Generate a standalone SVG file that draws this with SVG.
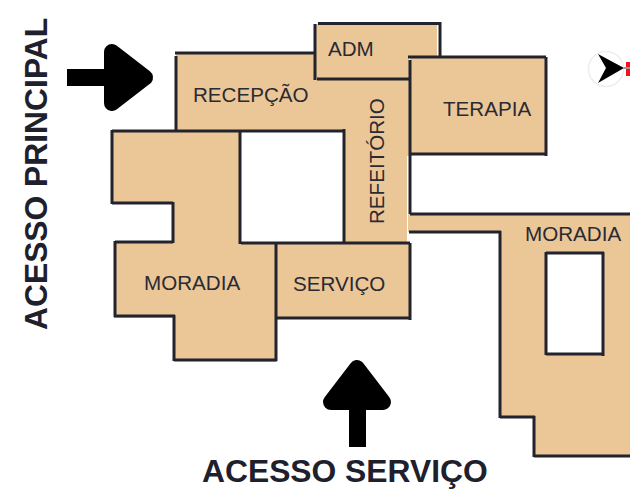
<svg xmlns="http://www.w3.org/2000/svg" width="630" height="489" viewBox="0 0 630 489">
<style>
.fill{fill:#ebc798;stroke:none}
.wall{fill:none;stroke:#23232d;stroke-width:3;stroke-linecap:butt;stroke-linejoin:miter}
.room{font-family:"Liberation Sans",Arial,sans-serif;font-size:20.600px;fill:#2a2a33}
.access{font-family:"Liberation Sans",Arial,sans-serif;font-size:31.800px;font-weight:700;fill:#20202c}
.arrow{fill:#000;stroke:#000;stroke-width:16;stroke-linejoin:round}
</style>
<rect width="630" height="489" fill="#fff"/>
<g id="plan-fill">
<path class="fill" d="M176 54H316V24H437V57H409V156H407V243H345V131H176Z"/>
<path class="fill" d="M410 57H546V154H410Z"/>
<path class="fill" d="M112 131H240V243H410V318H276V362H240V360H174V318H114V242H173V203H112Z"/>
<path class="fill" d="M408 214H630V456H534V417H500V232H408Z"/>
<rect x="546" y="252" width="56" height="103" fill="#fff"/>
</g>
<g id="connectors" class="wall">
<path d="M175 53H316M176 56V131M112 131H345M344 129V243M240 131V244M241 243H410"/>
<path d="M112 130V204M112 203H173M173 202V243M115 242H173M115 241V317M114 316H175M174 315V361M174 360H277M276 244V361M275 318H411M410 243V320"/>
<path d="M315 24V80M318 23.500H441M440 22V57M317 79H410M408 57H546M546 57V156M410 154H547M410 60V214M410 214H630"/>
<path d="M409 232H501M500 231V418M500 417H535M534 416V457M534 456H630"/>
<path d="M546 253H604M546 354H604M546 252V355M603 252V356"/>
</g>
<g id="recepcao"><text class="room" x="193" y="102">RECEPÇÃO</text></g>
<g id="adm"><text class="room" x="328" y="56">ADM</text></g>
<g id="terapia"><text class="room" x="443" y="116">TERAPIA</text></g>
<g id="refeitorio"><text class="room" transform="translate(384 224) rotate(-90)">REFEITÓRIO</text></g>
<g id="moradia-1"><text class="room" x="144" y="290">MORADIA</text></g>
<g id="servico"><text class="room" x="293" y="291">SERVIÇO</text></g>
<g id="moradia-2"><text class="room" x="525" y="241">MORADIA</text></g>
<g id="acesso-principal">
<rect x="67" y="69" width="40" height="17" fill="#000"/>
<path class="arrow" d="M112 52L145 77.500L112 103Z"/>
<text class="access" transform="translate(47 330) rotate(-90)">ACESSO PRINCIPAL</text>
</g>
<g id="acesso-servico">
<rect x="349" y="400" width="17" height="47" fill="#000"/>
<path class="arrow" d="M357 368L383 402H331Z"/>
<text class="access" x="202" y="482">ACESSO SERVIÇO</text>
</g>
<g id="north">
<circle cx="606" cy="69" r="17.500" fill="#fff" stroke="#eeeeee" stroke-width="1.500"/>
<path d="M598 54L624 68L598 83L606 68Z" fill="#000"/>
<rect x="626" y="62" width="4" height="14" fill="#f5101c"/>
<rect x="624" y="67" width="6" height="2" fill="#999"/>
</g>
</svg>
